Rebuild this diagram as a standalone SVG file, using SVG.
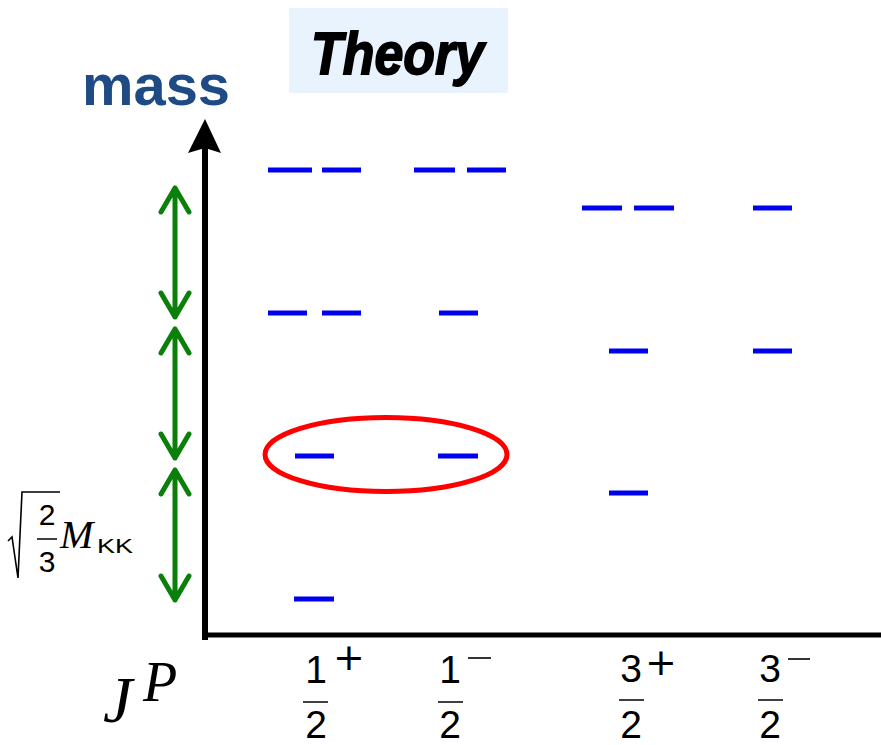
<svg xmlns="http://www.w3.org/2000/svg" width="881" height="745" viewBox="0 0 881 745">
<style>
.lvl{stroke:#0000f0;stroke-width:5;fill:none}
.gr{stroke:#0a800a;stroke-width:5;fill:none;stroke-linecap:round;stroke-linejoin:round}
.num{font-family:"Liberation Sans","DejaVu Sans",sans-serif;font-size:39px;fill:#000}
.sup{font-family:"DejaVu Sans","Liberation Sans",sans-serif;font-size:38px;fill:#000}
.bar{stroke:#000;stroke-width:1.5}
</style>
<rect width="881" height="745" fill="#fff"/>
<g id="title">
<rect x="289" y="8" width="219" height="85" fill="#e8f3fd"/>
<text x="311" y="74" font-family="Liberation Sans, Arial, sans-serif" font-weight="bold" font-style="italic" font-size="60" textLength="173" lengthAdjust="spacingAndGlyphs" fill="#000" stroke="#000" stroke-width="1.8">Theory</text>
</g>
<g id="ylabel">
<text x="82" y="105" font-family="Liberation Sans, Arial, sans-serif" font-weight="bold" font-size="58" textLength="148" lengthAdjust="spacingAndGlyphs" fill="#1f4b85">mass</text>
</g>
<g id="axes">
<line x1="205" y1="140" x2="205" y2="640" stroke="#000" stroke-width="6"/>
<line x1="202" y1="635" x2="881" y2="635" stroke="#000" stroke-width="5"/>
<polygon points="205,119 221,153 205,148 188,153" fill="#000"/>
</g>
<g id="spacing">
<path class="gr" d="M175 188V317M161 212L175 188L189 212M161 293L175 317L189 293"/>
<path class="gr" d="M175 329V458M161 353L175 329L189 353M161 434L175 458L189 434"/>
<path class="gr" d="M175 470V600M161 494L175 470L189 494M161 576L175 600L189 576"/>
</g>
<g id="levels">
<path class="lvl" d="M268 170H312M322 170H361M414 170H455M467 170H506"/>
<path class="lvl" d="M582 208H622M634 208H674M753 208H792"/>
<path class="lvl" d="M268 313H307M322 313H361M439 313H478"/>
<path class="lvl" d="M609 351H648M753 351H792"/>
<path class="lvl" d="M295 456H334M438 456H478"/>
<path class="lvl" d="M609 493H648"/>
<path class="lvl" d="M294 599H334"/>
</g>
<g id="highlight">
<ellipse cx="386" cy="454.5" rx="121" ry="37" fill="none" stroke="#ff0000" stroke-width="5"/>
</g>
<g id="scale-label">
<path d="M8 541L12 537L18 578L22 492H60" fill="none" stroke="#000" stroke-width="1.6"/>
<text x="47" y="525" text-anchor="middle" font-family="Liberation Sans, sans-serif" font-size="30">2</text>
<line x1="37" y1="539" x2="57" y2="539" class="bar"/>
<text x="47" y="572" text-anchor="middle" font-family="Liberation Sans, sans-serif" font-size="30">3</text>
<text x="60" y="548" font-family="Liberation Serif, serif" font-style="italic" font-size="40">M</text>
<text x="97" y="553" font-family="Liberation Sans, sans-serif" font-size="21" textLength="36" lengthAdjust="spacingAndGlyphs">KK</text>
</g>
<g id="xlabel">
<text x="103" y="722" font-family="Liberation Serif, serif" font-style="italic" font-size="66">J</text>
<text x="143" y="701" font-family="Liberation Serif, serif" font-style="italic" font-size="56">P</text>
</g>
<g id="tick-1p">
<text x="316" y="683" text-anchor="middle" class="num">1</text>
<text x="333" y="670" class="sup">+</text>
<line x1="303" y1="702" x2="328" y2="702" class="bar"/>
<text x="316" y="738" text-anchor="middle" class="num">2</text>
</g>
<g id="tick-1m">
<text x="450" y="683" text-anchor="middle" class="num">1</text>
<line x1="468" y1="658" x2="491" y2="658" stroke="#000" stroke-width="1.6"/>
<line x1="438" y1="702" x2="463" y2="702" class="bar"/>
<text x="450" y="738" text-anchor="middle" class="num">2</text>
</g>
<g id="tick-3p">
<text x="631" y="682" text-anchor="middle" class="num">3</text>
<text x="645" y="675" class="sup">+</text>
<line x1="619" y1="700" x2="644" y2="700" class="bar"/>
<text x="631" y="738" text-anchor="middle" class="num">2</text>
</g>
<g id="tick-3m">
<text x="770" y="682" text-anchor="middle" class="num">3</text>
<line x1="788" y1="659" x2="810" y2="659" stroke="#000" stroke-width="1.6"/>
<line x1="758" y1="700" x2="783" y2="700" class="bar"/>
<text x="770" y="738" text-anchor="middle" class="num">2</text>
</g>
</svg>
